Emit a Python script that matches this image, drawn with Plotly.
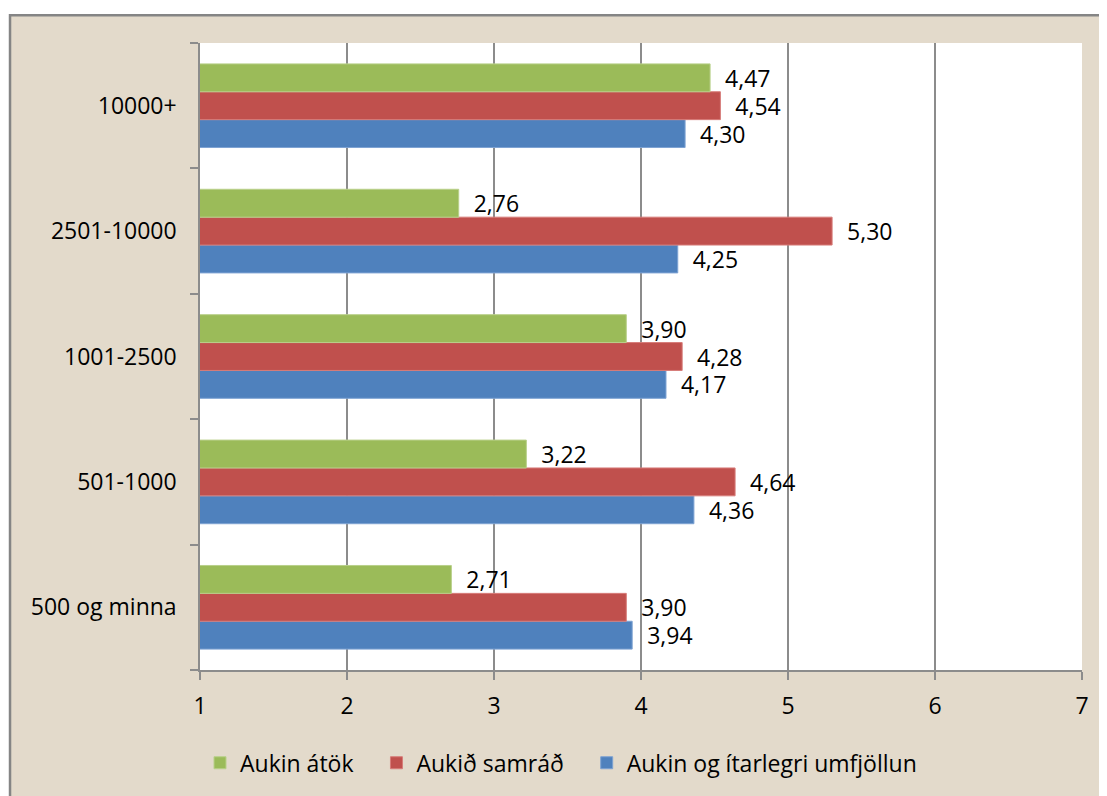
import plotly.graph_objects as go

categories = ["500 og minna", "501-1000", "1001-2500", "2501-10000", "10000+"]
aukin_atok = [2.71, 3.22, 3.90, 2.76, 4.47]
aukid_samrad = [3.90, 4.64, 4.28, 5.30, 4.54]
aukin_umfjollun = [3.94, 4.36, 4.17, 4.25, 4.30]

FONT = "Open Sans"
FS = 23
BEIGE = "#e3dacb"
GRID = "#8c8c8c"

fig = go.Figure()

# plotly raðar hópunum neðan frá, svo blátt fyrst og grænt síðast
# (bil aftast í nöfnum gefur meira pláss á milli í skýringunni)
series = [
    ("Aukin og ítarlegri umfjöllun", aukin_umfjollun, "#4f81bd", "#7ea3d3"),
    ("Aukið samráð   ", aukid_samrad, "#c0504d", "#d77c79"),
    ("Aukin átök   ", aukin_atok, "#9bbb59", "#b9d08a"),
]
for name, vals, col, edge in series:
    fig.add_trace(go.Bar(
        y=categories, x=vals, name=name, orientation="h",
        marker=dict(color=col, line=dict(color=edge, width=1)),
        texttemplate="  %{x:.2f}", textposition="outside",
        textfont=dict(family=FONT, size=FS, color="black"),
        constraintext="none", cliponaxis=False,
    ))

# síðan er með 8px spássíu í body, svo allt er hliðrað um 8px
fig.update_layout(
    width=1099, height=788,
    margin=dict(l=192, r=25, t=35, b=123),
    paper_bgcolor=BEIGE, plot_bgcolor="white",
    separators=",.",
    barmode="group", bargap=0.333, bargroupgap=0,
    font=dict(family=FONT, size=FS, color="black"),
    showlegend=True,
    legend=dict(orientation="h", traceorder="reversed",
                x=0.0, xanchor="left", y=-0.148, yanchor="middle",
                font=dict(family=FONT, size=FS), itemwidth=30,
                bgcolor="rgba(0,0,0,0)"),
    shapes=[
        dict(type="rect", xref="paper", yref="paper", layer="above",
             x0=-0.25, x1=1.05, y0=1.0444, y1=1.2, fillcolor="white", line_width=0),
        dict(type="rect", xref="paper", yref="paper", layer="above",
             x0=-0.25, x1=-0.2154, y0=-0.3, y1=1.2, fillcolor="white", line_width=0),
        dict(type="rect", xref="paper", yref="paper", layer="above",
             x0=-0.2154, x1=1.05, y0=-0.3, y1=1.0444,
             fillcolor="rgba(0,0,0,0)", line=dict(color="#858585", width=2.5)),
    ],
)

fig.update_xaxes(
    range=[1, 7], dtick=1, tick0=1,
    showgrid=True, gridcolor=GRID, gridwidth=1.5,
    showline=True, linecolor=GRID, linewidth=1.5,
    ticks="outside", ticklen=8, tickcolor=GRID, tickwidth=1.5,
    ticklabelstandoff=7, zeroline=False,
)
fig.update_yaxes(
    showgrid=False, showline=True, linecolor=GRID, linewidth=1.5,
    ticks="outside", ticklen=8, tickcolor=GRID, tickwidth=1.5,
    tickson="boundaries", ticklabelstandoff=17,
)

fig.write_html("out.html")
